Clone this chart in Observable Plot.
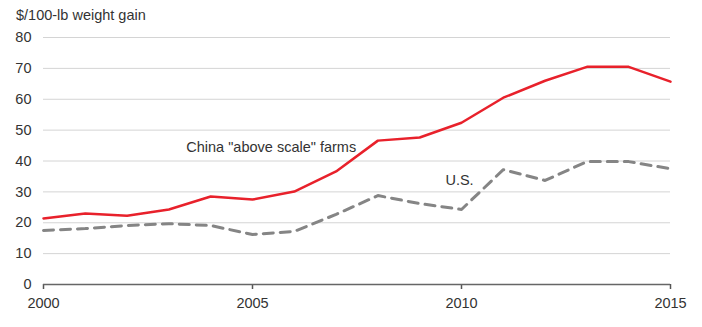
<!DOCTYPE html>
<html>
<head>
<meta charset="utf-8">
<script src="https://cdn.jsdelivr.net/npm/d3@7"></script>
<script src="https://cdn.jsdelivr.net/npm/@observablehq/plot@0.6"></script>
<style>
  html, body { margin: 0; padding: 0; background: #fff; }
  body { width: 702px; height: 327px; overflow: hidden; font-family: "Liberation Sans", Arial, sans-serif; }
  #title { height: 26px; font-size: 14.5px; color: #333; padding-left: 16px; line-height: 31px; box-sizing: border-box; }
</style>
</head>
<body>
<div id="title">$/100-lb weight gain</div>
<div id="chart"></div>
<script>
const years = [2000, 2001, 2002, 2003, 2004, 2005, 2006, 2007, 2008, 2009, 2010, 2011, 2012, 2013, 2014, 2015];
const china = [21.4, 23.0, 22.3, 24.3, 28.5, 27.5, 30.1, 36.6, 46.6, 47.6, 52.4, 60.5, 66.0, 70.5, 70.5, 65.7];
const us = [17.5, 18.1, 19.1, 19.7, 19.1, 16.2, 17.2, 22.7, 28.8, 26.2, 24.3, 37.2, 33.7, 39.8, 39.8, 37.5];
const yTicks = [0, 10, 20, 30, 40, 50, 60, 70, 80];
const xTicks = [2000, 2005, 2010, 2015];
const labels = [
  {text: 'China "above scale" farms', x: 2007.48, y: 44.3},
  {text: "U.S.", x: 2010.29, y: 33.7}
];

const chinaData = years.map((yr, i) => ({year: yr, value: china[i]}));
const usData = years.map((yr, i) => ({year: yr, value: us[i]}));

const plot = Plot.plot({
  width: 702,
  height: 301,
  marginLeft: 43,
  marginRight: 32,
  marginTop: 11,
  marginBottom: 43,
  style: {fontFamily: '"Liberation Sans", Arial, sans-serif', fontSize: "14.5px", color: "#333", background: "#fff"},
  x: {domain: [2000, 2015], ticks: xTicks, tickFormat: d => String(d), label: null},
  y: {domain: [0, 80], ticks: yTicks, label: null},
  marks: [
    Plot.ruleY(yTicks.filter(d => d > 0), {stroke: "#d4d4d4", strokeWidth: 1}),
    Plot.axisY({ticks: yTicks, tickSize: 0, tickPadding: 12, label: null, fontSize: 14.5}),
    Plot.axisX({ticks: xTicks, tickSize: 5, tickPadding: 8, tickFormat: d => String(d), label: null, fontSize: 14.5, stroke: "#555", strokeWidth: 1.5}),
    Plot.ruleY([0], {stroke: "#666", strokeWidth: 1.5}),
    Plot.line(usData, {x: "year", y: "value", stroke: "#858585", strokeWidth: 3, strokeDasharray: "10,7"}),
    Plot.line(chinaData, {x: "year", y: "value", stroke: "#e8212b", strokeWidth: 2.5}),
    Plot.text(labels, {x: "x", y: "y", text: "text", textAnchor: "end", fill: "#333", fontSize: 14.5})
  ]
});
document.getElementById("chart").appendChild(plot);
</script>
</body>
</html>
